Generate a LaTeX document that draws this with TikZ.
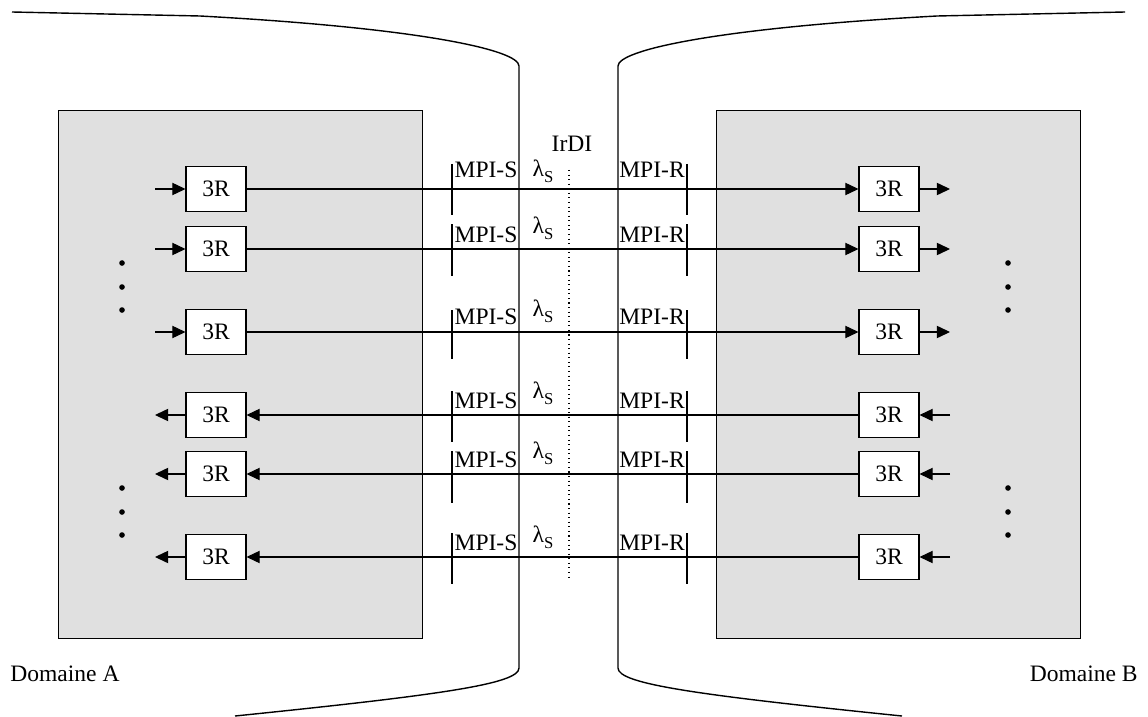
\documentclass[tikz,border=0pt]{standalone}
\usepackage{fontspec}
\setmainfont{Liberation Serif}
\usetikzlibrary{arrows.meta}

\newcommand{\lamS}{λ\raisebox{-0.6ex}{\fontsize{9.5}{10}\selectfont S}}

\begin{document}
\begin{tikzpicture}[x=0.02cm,y=-0.02cm,font=\fontsize{13.4}{15}\selectfont,
  regen/.style={draw,semithick,fill=white,inner sep=0pt,minimum width=1.2cm,minimum height=0.9cm},
  tip/.style={semithick,-{Triangle[length=7.5pt,width=7pt]}},
  domainbox/.style={draw,fill=black!12},
  lbl/.style={anchor=base,inner sep=0pt}]
\useasboundingbox (0,0) rectangle (1148,716);

\draw[thick] (12,12) -- (200,16) .. controls (420,28) and (519,50) .. (519,66) -- (519,668) .. controls (519,684) and (440,695) .. (235,716);
\draw[thick] (1125,12) -- (937,16) .. controls (717,28) and (618,50) .. (618,66) -- (618,668) .. controls (618,684) and (697,695) .. (902,716);

\draw[domainbox] (58,110) rectangle (422,638);
\draw[domainbox] (716,110) rectangle (1080,638);

\draw[dotted,semithick] (569,170) -- (569,578);
\node[lbl] (irdi) at (572,152) {IrDI};

% sens A -> B
\node[regen] (a1) at (216,189) {3R};
\node[regen] (b1) at (889,189) {3R};
\coordinate (ina1) at (155,189);
\coordinate (outb1) at (950,189);
\draw[tip] (ina1) -- (a1);
\draw[tip] (a1) -- (b1);
\draw[tip] (b1) -- (outb1);
\draw[semithick] (452,164) -- (452,215);
\draw[semithick] (687,164) -- (687,215);
\node[lbl] (s1) at (486,177) {MPI-S};
\node[lbl] (l1) at (543,176) {\lamS};
\node[lbl] (r1) at (652,177) {MPI-R};

\node[regen] (a2) at (216,249) {3R};
\node[regen] (b2) at (889,249) {3R};
\coordinate (ina2) at (155,249);
\coordinate (outb2) at (950,249);
\draw[tip] (ina2) -- (a2);
\draw[tip] (a2) -- (b2);
\draw[tip] (b2) -- (outb2);
\draw[semithick] (452,224) -- (452,276);
\draw[semithick] (687,224) -- (687,276);
\node[lbl] (s2) at (486,242) {MPI-S};
\node[lbl] (l2) at (543,233) {\lamS};
\node[lbl] (r2) at (652,242) {MPI-R};

\node[regen] (a3) at (216,332) {3R};
\node[regen] (b3) at (889,332) {3R};
\coordinate (ina3) at (155,332);
\coordinate (outb3) at (950,332);
\draw[tip] (ina3) -- (a3);
\draw[tip] (a3) -- (b3);
\draw[tip] (b3) -- (outb3);
\draw[semithick] (452,310) -- (452,359);
\draw[semithick] (687,310) -- (687,359);
\node[lbl] (s3) at (486,324) {MPI-S};
\node[lbl] (l3) at (543,316) {\lamS};
\node[lbl] (r3) at (652,324) {MPI-R};

% sens B -> A
\node[regen] (a4) at (216,415) {3R};
\node[regen] (b4) at (889,415) {3R};
\coordinate (outa4) at (155,415);
\coordinate (inb4) at (950,415);
\draw[tip] (inb4) -- (b4);
\draw[tip] (b4) -- (a4);
\draw[tip] (a4) -- (outa4);
\draw[semithick] (452,391) -- (452,442);
\draw[semithick] (687,391) -- (687,442);
\node[lbl] (s4) at (486,408) {MPI-S};
\node[lbl] (l4) at (543,398) {\lamS};
\node[lbl] (r4) at (652,408) {MPI-R};

\node[regen] (a5) at (216,474) {3R};
\node[regen] (b5) at (889,474) {3R};
\coordinate (outa5) at (155,474);
\coordinate (inb5) at (950,474);
\draw[tip] (inb5) -- (b5);
\draw[tip] (b5) -- (a5);
\draw[tip] (a5) -- (outa5);
\draw[semithick] (452,451) -- (452,503);
\draw[semithick] (687,451) -- (687,503);
\node[lbl] (s5) at (486,467) {MPI-S};
\node[lbl] (l5) at (543,458) {\lamS};
\node[lbl] (r5) at (652,467) {MPI-R};

\node[regen] (a6) at (216,557) {3R};
\node[regen] (b6) at (889,557) {3R};
\coordinate (outa6) at (155,557);
\coordinate (inb6) at (950,557);
\draw[tip] (inb6) -- (b6);
\draw[tip] (b6) -- (a6);
\draw[tip] (a6) -- (outa6);
\draw[semithick] (452,533) -- (452,584);
\draw[semithick] (687,533) -- (687,584);
\node[lbl] (s6) at (486,550) {MPI-S};
\node[lbl] (l6) at (543,542) {\lamS};
\node[lbl] (r6) at (652,550) {MPI-R};

% points de suspension
\fill (122,263) circle[radius=1.6pt];
\fill (122,287) circle[radius=1.6pt];
\fill (122,310) circle[radius=1.6pt];
\fill (122,488) circle[radius=1.6pt];
\fill (122,512) circle[radius=1.6pt];
\fill (122,535) circle[radius=1.6pt];
\fill (1008,263) circle[radius=1.6pt];
\fill (1008,287) circle[radius=1.6pt];
\fill (1008,310) circle[radius=1.6pt];
\fill (1008,488) circle[radius=1.6pt];
\fill (1008,512) circle[radius=1.6pt];
\fill (1008,535) circle[radius=1.6pt];

\node[anchor=base west,inner sep=0pt] (doma) at (10,681) {Domaine A};
\node[anchor=base east,inner sep=0pt] (domb) at (1138,681) {Domaine B};
\end{tikzpicture}
\end{document}
